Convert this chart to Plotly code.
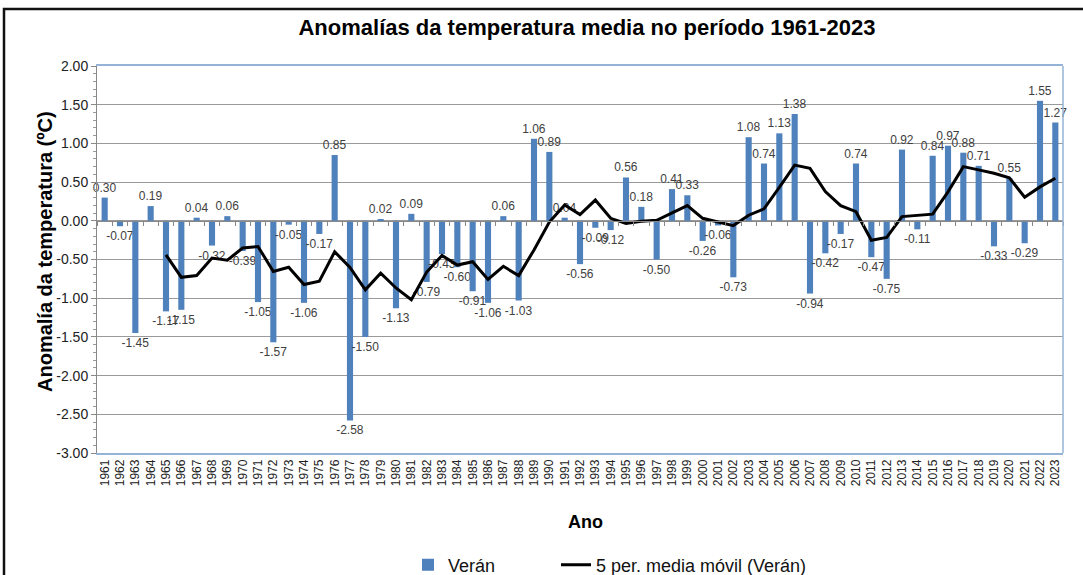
import plotly.graph_objects as go
import pandas as pd

years = [str(y) for y in range(1961, 2024)]
veran = [0.30, -0.07, -1.45, 0.19, -1.17, -1.15, 0.04, -0.32, 0.06, -0.39,
         -1.05, -1.57, -0.05, -1.06, -0.17, 0.85, -2.58, -1.50, 0.02, -1.13,
         0.09, -0.79, -0.43, -0.60, -0.91, -1.06, 0.06, -1.03, 1.06, 0.89,
         0.04, -0.56, -0.09, -0.12, 0.56, 0.18, -0.50, 0.41, 0.33, -0.26,
         -0.06, -0.73, 1.08, 0.74, 1.13, 1.38, -0.94, -0.42, -0.17, 0.74,
         -0.47, -0.75, 0.92, -0.11, 0.84, 0.97, 0.88, 0.71, -0.33, 0.55,
         -0.29, 1.55, 1.27]
y_ticks = [2.0, 1.5, 1.0, 0.5, 0.0, -0.5, -1.0, -1.5, -2.0, -2.5, -3.0]

# 5-period trailing moving average (Excel trendline definition)
mov_avg = pd.Series(veran).rolling(5).mean().tolist()

W, H = 1083, 575
L, R, T, B = 97, 20, 66, 122
pw, ph = W - L - R, H - T - B

def px2x(px):
    return (px - L) / pw

def px2y(py):
    return (H - B - py) / ph

BLUE = "#4F81BD"
FONT = "Liberation Sans, Arial, sans-serif"

fig = go.Figure()
fig.add_trace(go.Bar(
    x=years, y=veran, name="Verán", marker=dict(color=BLUE, line=dict(width=0)),
    text=[f"{v:.2f}" for v in veran], textposition="outside", textangle=0,
    constraintext="none", cliponaxis=False,
    textfont=dict(family=FONT, size=12, color="#404040"),
    xaxis="x", yaxis="y", legend="legend",
))
fig.add_trace(go.Scatter(
    x=years, y=mov_avg, name="5 per. media móvil (Verán)", mode="lines",
    line=dict(color="black", width=3), xaxis="x2", yaxis="y", legend="legend2",
))

fig.update_layout(
    width=W, height=H,
    margin=dict(l=L, r=R, t=T, b=B, autoexpand=False),
    paper_bgcolor="white", plot_bgcolor="white",
    bargap=0.6,
    showlegend=True,
    title=dict(text="<b>Anomalías da temperatura media no período 1961-2023</b>",
               x=px2x(587), xref="paper", xanchor="center",
               y=1 - 27 / H, yref="container", yanchor="middle",
               font=dict(family=FONT, size=22, color="black")),
    xaxis=dict(type="category", categoryorder="array", categoryarray=years,
               range=[-0.5, len(years) - 0.5],
               tickangle=-90, tickfont=dict(family=FONT, size=12, color="#222"),
               showgrid=False, ticks="", showline=True, linecolor="#95B3D7",
               linewidth=1.5, mirror=True, zeroline=False),
    xaxis2=dict(type="category", categoryorder="array", categoryarray=years,
                range=[-0.5, len(years) - 0.5], overlaying="x", anchor="free",
                position=0.6, side="bottom", showticklabels=False,
                ticks="outside", tickson="boundaries", ticklen=4,
                tickcolor="#888", showline=True, linecolor="#888", linewidth=1,
                showgrid=False, zeroline=False),
    yaxis=dict(range=[-3.0, 2.0], tickvals=y_ticks,
               ticktext=[f"{v:.2f}" for v in y_ticks],
               tickfont=dict(family=FONT, size=14, color="#222"),
               ticks="outside", ticklen=5, tickcolor="#888",
               minor=dict(dtick=0.1, ticks="outside", ticklen=3, tickcolor="#999",
                          showgrid=False),
               showgrid=True, gridcolor="#9A9A9A", gridwidth=1,
               showline=True, linecolor="#888", linewidth=1, zeroline=False),
    legend=dict(orientation="h", x=px2x(408), xanchor="left",
                y=px2y(565), yanchor="middle",
                font=dict(family=FONT, size=18, color="#111"),
                bgcolor="rgba(0,0,0,0)"),
    legend2=dict(orientation="h", x=px2x(556), xanchor="left",
                 y=px2y(565), yanchor="middle",
                 font=dict(family=FONT, size=18, color="#111"),
                 bgcolor="rgba(0,0,0,0)"),
)

# right border of plot area (light blue)
fig.add_shape(type="line", xref="paper", yref="paper", x0=1, x1=1, y0=0, y1=1,
              line=dict(color="#95B3D7", width=1.5))

# outer chart frame (top and left edges visible)
fig.add_shape(type="rect", xref="paper", yref="paper",
              x0=px2x(4), x1=px2x(1095), y0=px2y(590), y1=px2y(9),
              line=dict(color="#111", width=2.5))

fig.add_annotation(text="<b>Anomalía da temperatura (ºC)</b>", xref="paper", yref="paper",
                   x=px2x(45), y=px2y(252), xanchor="center", yanchor="middle",
                   textangle=-90, showarrow=False,
                   font=dict(family=FONT, size=20, color="black"))
fig.add_annotation(text="<b>Ano</b>", xref="paper", yref="paper",
                   x=px2x(585), y=px2y(522), xanchor="center", yanchor="middle",
                   showarrow=False,
                   font=dict(family=FONT, size=18, color="black"))

fig.write_html("out.html", config={"displayModeBar": False},
               post_script="document.body.style.margin='0';document.body.style.overflow='hidden';")
